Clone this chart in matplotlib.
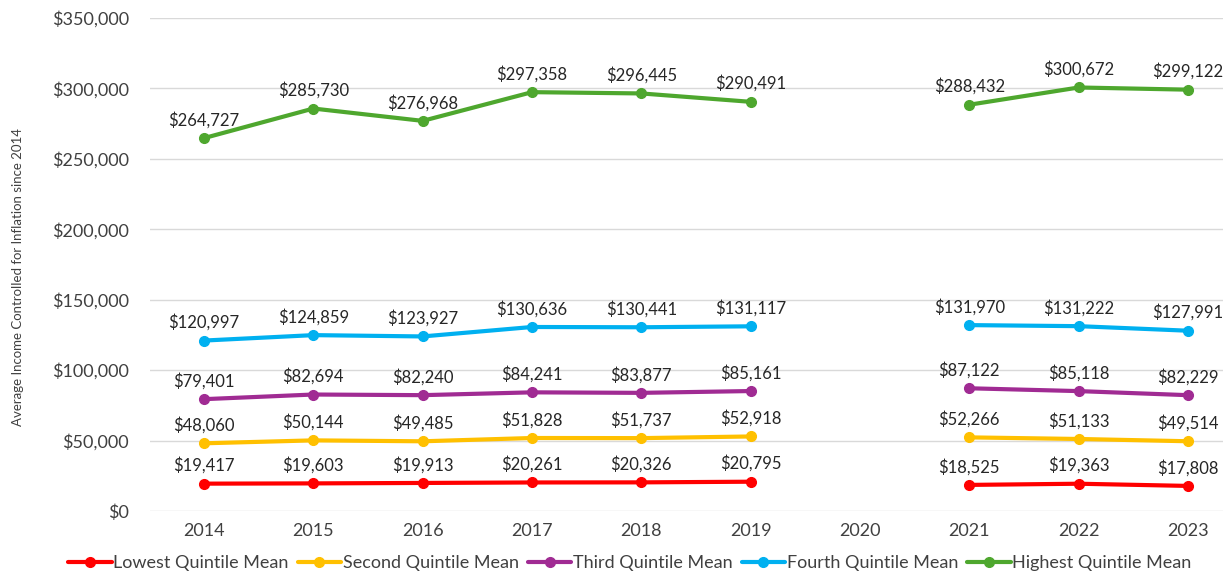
import numpy as np
import matplotlib
matplotlib.use("Agg")
import matplotlib.pyplot as plt
from matplotlib.ticker import FuncFormatter

years = ["2014", "2015", "2016", "2017", "2018", "2019", "2020", "2021", "2022", "2023"]
nan = np.nan
lowest = [19417, 19603, 19913, 20261, 20326, 20795, nan, 18525, 19363, 17808]
second = [48060, 50144, 49485, 51828, 51737, 52918, nan, 52266, 51133, 49514]
third = [79401, 82694, 82240, 84241, 83877, 85161, nan, 87122, 85118, 82229]
fourth = [120997, 124859, 123927, 130636, 130441, 131117, nan, 131970, 131222, 127991]
highest = [264727, 285730, 276968, 297358, 296445, 290491, nan, 288432, 300672, 299122]

series = [
    ("Lowest Quintile Mean", lowest, "#FF0000"),
    ("Second Quintile Mean", second, "#FFC000"),
    ("Third Quintile Mean", third, "#A02B93"),
    ("Fourth Quintile Mean", fourth, "#00B0F0"),
    ("Highest Quintile Mean", highest, "#4EA72E"),
]

plt.rcParams['font.family'] = ['Lato', 'DejaVu Sans']

fig = plt.figure(figsize=(12.23, 5.75), dpi=100)
ax = fig.add_axes([150 / 1223, 1 - 511 / 575, 1 - 150 / 1223, (511 - 18) / 575])

x = np.arange(len(years))
for name, vals, col in series:
    ax.plot(x, vals, color=col, lw=3, marker='o', ms=7, label=name,
            solid_capstyle='round', zorder=3)
    for xi, v in zip(x, vals):
        if np.isnan(v):
            continue
        ax.annotate(f"${v:,.0f}", (xi, v), xytext=(0, 7),
                    textcoords='offset points', ha='center', va='bottom',
                    fontsize=12, color='#262626', annotation_clip=False)

ax.set_ylim(0, 350000)
ax.set_yticks(np.arange(0, 350001, 50000))
ax.yaxis.set_major_formatter(FuncFormatter(lambda v, p: f"${v:,.0f}"))
ax.set_xlim(-0.494, 9.32)
ax.set_xticks(x)
ax.set_xticklabels(years)
ax.tick_params(axis='both', length=0, labelsize=13, labelcolor='#404040')
ax.tick_params(axis='x', pad=9)
ax.tick_params(axis='y', pad=15)
ax.grid(axis='y', color='#D9D9D9', lw=1)
ax.set_axisbelow(True)
for s in ax.spines.values():
    s.set_visible(False)

fig.text(18 / 1223, 1 - 277 / 575, "Average Income Controlled for Inflation since 2014",
         rotation=90, ha='center', va='center', fontsize=9.5, color='#404040')

fig.legend(loc='center', bbox_to_anchor=(630 / 1223, 1 - 563 / 575), ncol=5,
           frameon=False, fontsize=13, handlelength=2.4, handletextpad=0.1,
           columnspacing=0.5, labelcolor='#404040')

fig.savefig("out.png", dpi=100)
